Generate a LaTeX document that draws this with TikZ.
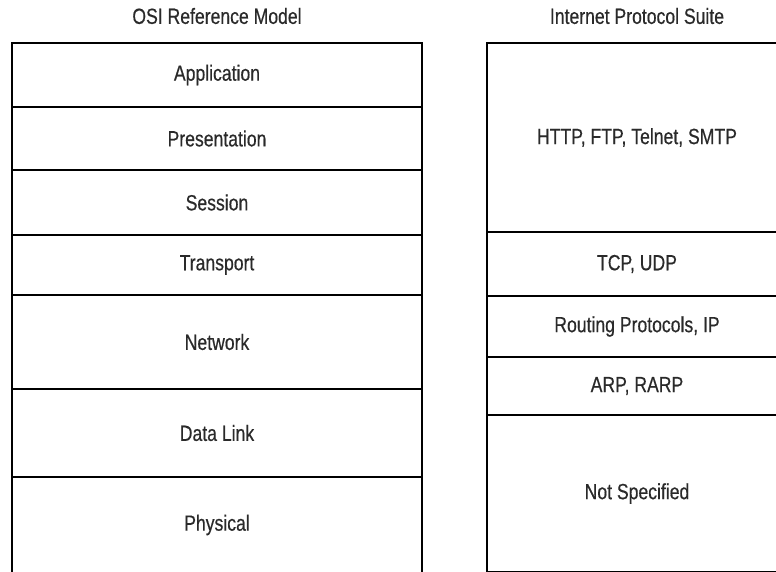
\documentclass[tikz,border=0pt]{standalone}
\usepackage{fontspec}
\setmainfont{Liberation Sans}[FakeStretch=0.8, FakeBold=0.4]
\usepackage{xcolor}
\usepackage{tikz}
\usetikzlibrary{positioning}
\definecolor{inkgray}{HTML}{2A2A2A}
\tikzset{
  layer/.style={draw=black, line width=2.9pt, rectangle, inner sep=0pt, text=inkgray},
  heading/.style={text=inkgray},
}

\begin{document}
\begin{tikzpicture}[x=1pt, y=-1pt, font=\fontsize{22}{26}\selectfont]
\useasboundingbox[fill=white] (0,0) rectangle (776,571);
% OSI column
\node[heading] (osi) at (217,16) {OSI Reference Model};
\node[layer, minimum width=410pt, minimum height=64pt] (app) at (217,75) {Application};
\node[layer, minimum width=410pt, minimum height=63pt] (pres) at (217,138.5) {Presentation};
\node[layer, minimum width=410pt, minimum height=65pt] (sess) at (217,202.5) {Session};
\node[layer, minimum width=410pt, minimum height=60pt] (trans) at (217,265) {Transport};
\node[layer, minimum width=410pt, minimum height=94pt] (net) at (217,342) {Network};
\node[layer, minimum width=410pt, minimum height=88pt] (link) at (217,433) {Data Link};
\node[layer, minimum width=410pt, minimum height=96pt] (phys) at (217,525) {Physical};
% Internet column
\node[heading] (inet) at (637,16) {Internet Protocol Suite};
\node[layer, minimum width=310pt, minimum height=189pt] (http) at (642,137.5) {\hspace*{-10pt}HTTP, FTP, Telnet, SMTP};
\node[layer, minimum width=310pt, minimum height=64pt] (tcp) at (642,264) {\hspace*{-10pt}TCP, UDP};
\node[layer, minimum width=310pt, minimum height=61pt] (ip) at (642,326.5) {\hspace*{-10pt}Routing Protocols, IP};
\node[layer, minimum width=310pt, minimum height=58pt] (arp) at (642,386) {\hspace*{-10pt}ARP, RARP};
\node[layer, minimum width=310pt, minimum height=157pt] (none) at (642,493.5) {\hspace*{-10pt}Not Specified};
\end{tikzpicture}
\end{document}
